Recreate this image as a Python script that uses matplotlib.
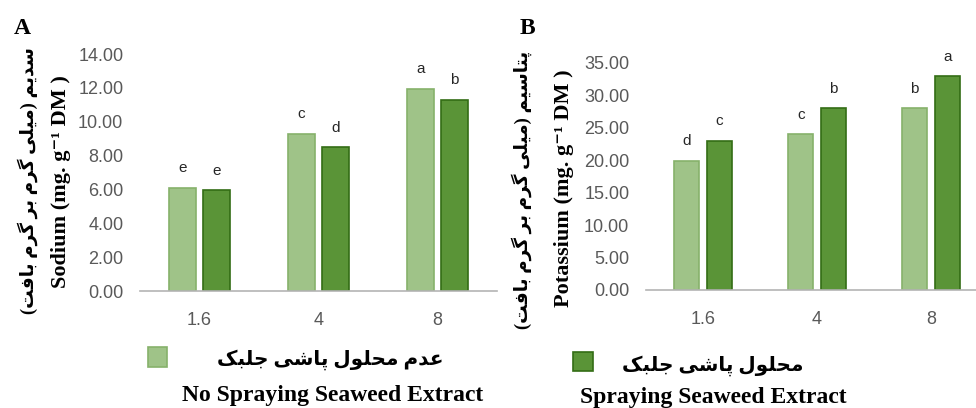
#!/usr/bin/env python3
"""Sodium and potassium content of leaves under salinity, with / without seaweed spray."""

from __future__ import annotations

import matplotlib

matplotlib.use("Agg")
import matplotlib.pyplot as plt
from matplotlib.patches import Rectangle


FIG_W, FIG_H = 976, 408

SALINITY = ["1.6", "4", "8"]

SODIUM_NO_SPRAY = [6.1, 9.3, 11.95]
SODIUM_SPRAY = [5.95, 8.5, 11.3]
SODIUM_LETTERS_NO_SPRAY = ["e", "c", "a"]
SODIUM_LETTERS_SPRAY = ["e", "d", "b"]

POTASSIUM_NO_SPRAY = [19.9, 24.0, 28.0]
POTASSIUM_SPRAY = [23.0, 28.0, 33.0]
POTASSIUM_LETTERS_NO_SPRAY = ["d", "c", "b"]
POTASSIUM_LETTERS_SPRAY = ["c", "b", "a"]

SODIUM_LABEL_FA = "سدیم (میلی گرم بر گرم بافت)"
SODIUM_LABEL_EN = "Sodium (mg. g\u207b\u00b9 DM )"
POTASSIUM_LABEL_FA = "پتاسیم (میلی گرم بر گرم بافت)"
POTASSIUM_LABEL_EN = "Potassium (mg. g\u207b\u00b9 DM )"
LEGEND_NO_SPRAY_FA = "عدم محلول پاشی جلبک"
LEGEND_NO_SPRAY_EN = "No Spraying Seaweed Extract"
LEGEND_SPRAY_FA = "محلول پاشی جلبک"
LEGEND_SPRAY_EN = "Spraying Seaweed Extract"

COLORS = {
    "light": "#9fc388",
    "light_edge": "#86b16b",
    "dark": "#5a9437",
    "dark_edge": "#336d15",
    "tick": "#595959",
    "axis": "#b4b4b4",
}

SERIF = ["Liberation Serif", "DejaVu Sans"]
SANS = ["Liberation Sans", "DejaVu Sans"]

# isolated, final, initial, medial (None = letter does not join to the next one)
ARABIC_FORMS = {
    "\u0627": ("\ufe8d", "\ufe8e", None, None),
    "\u0628": ("\ufe8f", "\ufe90", "\ufe91", "\ufe92"),
    "\u062a": ("\ufe95", "\ufe96", "\ufe97", "\ufe98"),
    "\u062c": ("\ufe9d", "\ufe9e", "\ufe9f", "\ufea0"),
    "\u062d": ("\ufea1", "\ufea2", "\ufea3", "\ufea4"),
    "\u062f": ("\ufea9", "\ufeaa", None, None),
    "\u0631": ("\ufead", "\ufeae", None, None),
    "\u0633": ("\ufeb1", "\ufeb2", "\ufeb3", "\ufeb4"),
    "\u0634": ("\ufeb5", "\ufeb6", "\ufeb7", "\ufeb8"),
    "\u0639": ("\ufec9", "\ufeca", "\ufecb", "\ufecc"),
    "\u0641": ("\ufed1", "\ufed2", "\ufed3", "\ufed4"),
    "\u0644": ("\ufedd", "\ufede", "\ufedf", "\ufee0"),
    "\u0645": ("\ufee1", "\ufee2", "\ufee3", "\ufee4"),
    "\u0648": ("\ufeed", "\ufeee", None, None),
    "\u067e": ("\ufb56", "\ufb57", "\ufb58", "\ufb59"),
    "\u06a9": ("\ufb8e", "\ufb8f", "\ufb90", "\ufb91"),
    "\u06af": ("\ufb92", "\ufb93", "\ufb94", "\ufb95"),
    "\u06cc": ("\ufbfc", "\ufbfd", "\ufbfe", "\ufbff"),
}
MIRROR = {"(": ")", ")": "("}


def rtl(text: str) -> str:
    """Very small Persian shaper: contextual forms + visual (reversed) order."""

    shaped = []
    for i, ch in enumerate(text):
        forms = ARABIC_FORMS.get(ch)
        if forms is None:
            shaped.append(MIRROR.get(ch, ch))
            continue
        prev = text[i - 1] if i > 0 else ""
        nxt = text[i + 1] if i + 1 < len(text) else ""
        join_prev = prev in ARABIC_FORMS and ARABIC_FORMS[prev][2] is not None
        join_next = nxt in ARABIC_FORMS and forms[2] is not None
        if join_prev and join_next:
            shaped.append(forms[3])
        elif join_prev:
            shaped.append(forms[1])
        elif join_next:
            shaped.append(forms[2])
        else:
            shaped.append(forms[0])
    return "".join(reversed(shaped))


def px(x: float, y: float) -> tuple[float, float]:
    return x / FIG_W, 1 - y / FIG_H


def draw_panel(fig, rect, no_spray, spray, letters_no, letters_spray, ymax, step):
    ax = fig.add_axes(rect)
    x = range(len(SALINITY))
    width = 0.22
    offset = 0.143
    ax.bar([i - offset for i in x], no_spray, width=width, color=COLORS["light"],
           edgecolor=COLORS["light_edge"], linewidth=1.2)
    ax.bar([i + offset for i in x], spray, width=width, color=COLORS["dark"],
           edgecolor=COLORS["dark_edge"], linewidth=1.2)
    for i in x:
        ax.annotate(letters_no[i], (i - offset, no_spray[i]), xytext=(0, 14), textcoords="offset points",
                    ha="center", va="center", fontsize=11, family=SANS, color="#262626")
        ax.annotate(letters_spray[i], (i + offset, spray[i]), xytext=(0, 14), textcoords="offset points",
                    ha="center", va="center", fontsize=11, family=SANS, color="#262626")

    ax.set_xlim(-0.5, len(SALINITY) - 0.5)
    ax.set_ylim(0, ymax)
    ticks = [k * step for k in range(int(round(ymax / step)) + 1)]
    ax.set_yticks(ticks, labels=[f"{t:.2f}" for t in ticks])
    ax.set_xticks(list(x), labels=SALINITY)
    for side in ("top", "right", "left"):
        ax.spines[side].set_visible(False)
    ax.spines["bottom"].set_color(COLORS["axis"])
    ax.spines["bottom"].set_linewidth(1.2)
    ax.tick_params(length=0, labelsize=13, labelcolor=COLORS["tick"])
    ax.tick_params(axis="x", pad=15)
    ax.tick_params(axis="y", pad=12)
    for label in ax.get_xticklabels() + ax.get_yticklabels():
        label.set_family(SANS)
    ax.patch.set_alpha(0)
    return ax


def main() -> None:
    fig = plt.figure(figsize=(FIG_W / 100, FIG_H / 100), dpi=100)

    draw_panel(fig, [140 / FIG_W, 117 / FIG_H, 357 / FIG_W, 237 / FIG_H],
               SODIUM_NO_SPRAY, SODIUM_SPRAY, SODIUM_LETTERS_NO_SPRAY, SODIUM_LETTERS_SPRAY,
               14, 2)
    draw_panel(fig, [646 / FIG_W, 118 / FIG_H, 342 / FIG_W, 227 / FIG_H],
               POTASSIUM_NO_SPRAY, POTASSIUM_SPRAY, POTASSIUM_LETTERS_NO_SPRAY, POTASSIUM_LETTERS_SPRAY,
               35, 5)

    # panel letters
    fig.text(*px(22, 28), "A", ha="center", va="center", fontsize=17, fontweight="bold", family=SERIF)
    fig.text(*px(527, 28), "B", ha="center", va="center", fontsize=17, fontweight="bold", family=SERIF)

    # y labels (Persian line + English line)
    fig.text(*px(28, 181), rtl(SODIUM_LABEL_FA), rotation=90, ha="center", va="center",
             fontsize=13.3, fontweight="bold", family=SERIF)
    fig.text(*px(61, 182), SODIUM_LABEL_EN, rotation=90, ha="center", va="center",
             fontsize=16, fontweight="bold", family=SERIF)
    fig.text(*px(522, 190), rtl(POTASSIUM_LABEL_FA), rotation=90, ha="center", va="center",
             fontsize=13.3, fontweight="bold", family=SERIF)
    fig.text(*px(564, 188), POTASSIUM_LABEL_EN, rotation=90, ha="center", va="center",
             fontsize=16, fontweight="bold", family=SERIF)

    # legend
    fig.patches.append(Rectangle(px(148, 367), 19 / FIG_W, 20 / FIG_H, transform=fig.transFigure,
                                 facecolor=COLORS["light"], edgecolor=COLORS["light_edge"], linewidth=1.2))
    fig.patches.append(Rectangle(px(573, 371), 20 / FIG_W, 19 / FIG_H, transform=fig.transFigure,
                                 facecolor=COLORS["dark"], edgecolor=COLORS["dark_edge"], linewidth=1.2))
    fig.text(*px(330, 360), rtl(LEGEND_NO_SPRAY_FA), ha="center", va="center",
             fontsize=14.4, fontweight="bold", family=SERIF)
    fig.text(*px(333, 396), LEGEND_NO_SPRAY_EN, ha="center", va="center",
             fontsize=17, fontweight="bold", family=SERIF)
    fig.text(*px(713, 366), rtl(LEGEND_SPRAY_FA), ha="center", va="center",
             fontsize=14.4, fontweight="bold", family=SERIF)
    fig.text(*px(713, 397), LEGEND_SPRAY_EN, ha="center", va="center",
             fontsize=17, fontweight="bold", family=SERIF)

    fig.savefig("out.png", dpi=100)
    plt.close(fig)


if __name__ == "__main__":
    main()
